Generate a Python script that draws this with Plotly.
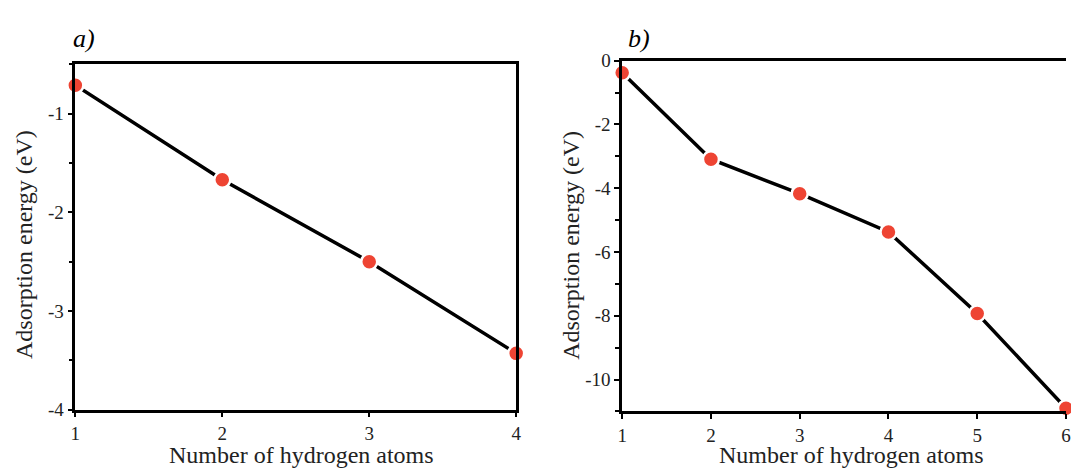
import plotly.graph_objects as go

# Data
h_atoms_a = [1, 2, 3, 4]
energy_a = [-0.71, -1.67, -2.50, -3.43]
h_atoms_b = [1, 2, 3, 4, 5, 6]
energy_b = [-0.38, -3.09, -4.17, -5.37, -7.93, -10.9]
yticks_a = [-4, -3, -2, -1]
yticks_b = [-10, -8, -6, -4, -2, 0]
panel_labels = ["a)", "b)"]
x_title = "Number of hydrogen atoms"
y_title = "Adsorption energy (eV)"

W, H = 1071, 476
serif = "Liberation Serif, Times New Roman, serif"
red = "#EE4433"

fig = go.Figure()

for xs, ys, xa, ya in [(h_atoms_a, energy_a, "x", "y"), (h_atoms_b, energy_b, "x2", "y2")]:
    fig.add_trace(go.Scatter(
        x=xs, y=ys, xaxis=xa, yaxis=ya, mode="lines+markers",
        line=dict(color="black", width=3.5),
        marker=dict(color=red, size=16, line=dict(color="white", width=2.5)),
        cliponaxis=False, showlegend=False))

tickfont = dict(family=serif, size=19, color="#222")
common_x = dict(showline=True, linecolor="black", linewidth=2.5, ticks="outside",
                ticklen=5, tickwidth=2, tickcolor="black", showgrid=False,
                zeroline=False, tickfont=tickfont, dtick=1)
common_y = dict(showline=True, linecolor="black", linewidth=2.5, ticks="outside",
                ticklen=5, tickwidth=2, tickcolor="black", showgrid=False,
                zeroline=False, tickfont=tickfont)

fig.update_layout(
    width=W, height=H, margin=dict(l=0, r=0, t=0, b=0),
    paper_bgcolor="white", plot_bgcolor="white",
    xaxis=dict(common_x, domain=[71 / W, 516 / W], range=[1, 4], mirror=True,
               anchor="y"),
    yaxis=dict(common_y, domain=[(H - 418) / H, (H - 57) / H], range=[-4, -0.5],
               tickvals=yticks_a, ticktext=[str(v) for v in yticks_a],
               mirror=True, anchor="x",
               minor=dict(dtick=0.5, ticks="outside", ticklen=4, tickwidth=2,
                          tickcolor="black", showgrid=False)),
    xaxis2=dict(common_x, domain=[623 / W, 1.0], range=[1, 6],
                mirror=True, anchor="y2"),
    yaxis2=dict(common_y, domain=[(H - 420) / H, (H - 53) / H], range=[-11, 0],
                tickvals=yticks_b, ticktext=[str(v) for v in yticks_b],
                anchor="x2",
                minor=dict(dtick=1, ticks="outside", ticklen=4, tickwidth=2,
                           tickcolor="black", showgrid=False)),
)

annos = [
    dict(text="<i>" + panel_labels[0] + "</i>", x=67 / W, y=(H - 30) / H, xanchor="left",
         yanchor="middle", font=dict(family=serif, size=26, color="black")),
    dict(text="<i>" + panel_labels[1] + "</i>", x=627 / W, y=(H - 30) / H, xanchor="left",
         yanchor="middle", font=dict(family=serif, size=26, color="black")),
    dict(text=x_title, x=299 / W, y=(H - 466) / H, xanchor="center", yanchor="middle",
         font=dict(family=serif, size=24, color="#222")),
    dict(text=x_title, x=854 / W, y=(H - 466) / H, xanchor="center", yanchor="middle",
         font=dict(family=serif, size=24, color="#222")),
    dict(text=y_title, x=19 / W, y=(H - 245) / H, xanchor="center", yanchor="middle",
         textangle=-90, font=dict(family=serif, size=24, color="#222")),
    dict(text=y_title, x=571 / W, y=(H - 246) / H, xanchor="center", yanchor="middle",
         textangle=-90, font=dict(family=serif, size=24, color="#222")),
]
for a in annos:
    a.update(xref="paper", yref="paper", showarrow=False)
    fig.add_annotation(**a)

fix_page = (
    "document.documentElement.style.margin='0';"
    "document.body.style.margin='0';"
    "document.body.style.overflow='hidden';"
    "var d=document.getElementsByClassName('plotly-graph-div')[0];"
    "d.style.position='fixed';d.style.left='0px';d.style.top='0px';"
)
fig.write_html("out.html", config={"displayModeBar": False}, post_script=fix_page)
